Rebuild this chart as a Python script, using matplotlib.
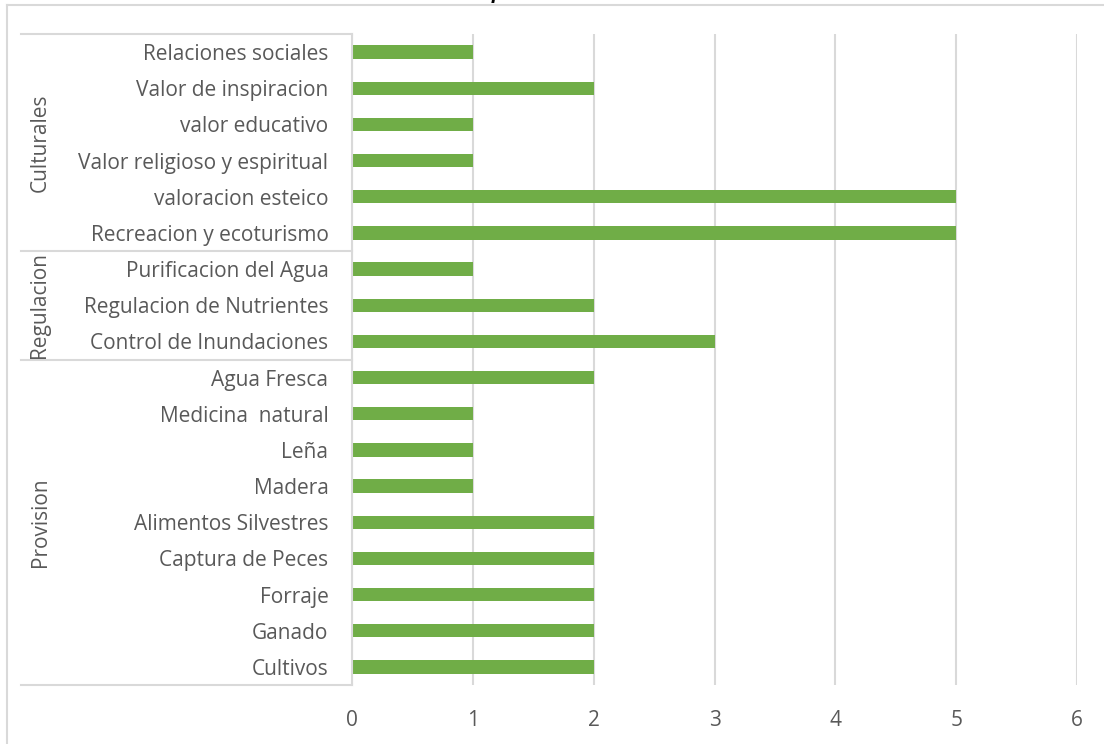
import matplotlib.pyplot as plt
from matplotlib import transforms
from matplotlib.lines import Line2D

plt.rcParams['font.family'] = ['Open Sans', 'DejaVu Sans']

# Servicios por grupo (de arriba hacia abajo)
categorias = [
    'Relaciones sociales', 'Valor de inspiracion', 'valor educativo',
    'Valor religioso y espiritual', 'valoracion esteico', 'Recreacion y ecoturismo',
    'Purificacion del Agua', 'Regulacion de Nutrientes', 'Control de Inundaciones',
    'Agua Fresca', 'Medicina  natural', 'Leña', 'Madera', 'Alimentos Silvestres',
    'Captura de Peces', 'Forraje', 'Ganado', 'Cultivos',
]
valores = [1, 2, 1, 1, 5, 5, 1, 2, 3, 2, 1, 1, 1, 2, 2, 2, 2, 2]
grupos = ['Culturales', 'Regulacion', 'Provision']
tamanos_grupo = [6, 3, 9]
ticks_x = [0, 1, 2, 3, 4, 5, 6]

W, H = 1104, 744
gris = '#d9d9d9'
texto = '#595959'
verde = '#70ad47'
fs = 15

fig = plt.figure(figsize=(W / 100, H / 100), dpi=100)
ax = fig.add_axes([352 / W, 1 - 685 / H, (1077 - 352) / W, 651 / H])

pos = list(range(len(categorias)))
ax.barh(pos, valores, height=0.37, color=verde, zorder=3)
ax.set_ylim(len(categorias) - 0.5, -0.5)
ax.set_xlim(ticks_x[0], ticks_x[-1])
ax.set_yticks(pos)
ax.set_yticklabels(categorias, fontsize=fs, color=texto)
ax.set_xticks(ticks_x)
ax.set_xticklabels([str(t) for t in ticks_x], fontsize=fs, color=texto)
ax.tick_params(axis='y', length=0, pad=17)
ax.tick_params(axis='x', length=0, pad=18)
ax.grid(axis='x', color=gris, linewidth=1.5, zorder=0)
for s in ['top', 'right', 'bottom']:
    ax.spines[s].set_visible(False)
ax.spines['left'].set_color(gris)
ax.spines['left'].set_linewidth(1.5)
ax.spines['left'].set_zorder(4)

# Ejes de categorias agrupadas
tr = transforms.blended_transform_factory(fig.transFigure, ax.transData)
x0, x1 = 21 / W, 352 / W
limites = [-0.5]
for n in tamanos_grupo:
    limites.append(limites[-1] + n)
for y in limites:
    ax.add_line(Line2D([x0, x1], [y, y], transform=tr, color=gris,
                       linewidth=1.5, clip_on=False))
for g, a, b in zip(grupos, limites[:-1], limites[1:]):
    ax.text(40 / W, (a + b) / 2, g, transform=tr, rotation=90, ha='center',
            va='center', fontsize=fs, color=texto)

# Borde del grafico
fig.add_artist(Line2D([7 / W, 7 / W], [0, 1 - 5 / H], color=gris, linewidth=1.5))
fig.add_artist(Line2D([7 / W, 1], [1 - 5 / H, 1 - 5 / H], color=gris, linewidth=1.5))

# Titulo (queda cortado en el borde superior)
fig.text(497 / W, 1 + 2 / H, 'p', fontsize=14, fontweight='bold', style='italic',
         ha='center', va='baseline', color='black', zorder=0)

fig.savefig('out.png', dpi=100)
